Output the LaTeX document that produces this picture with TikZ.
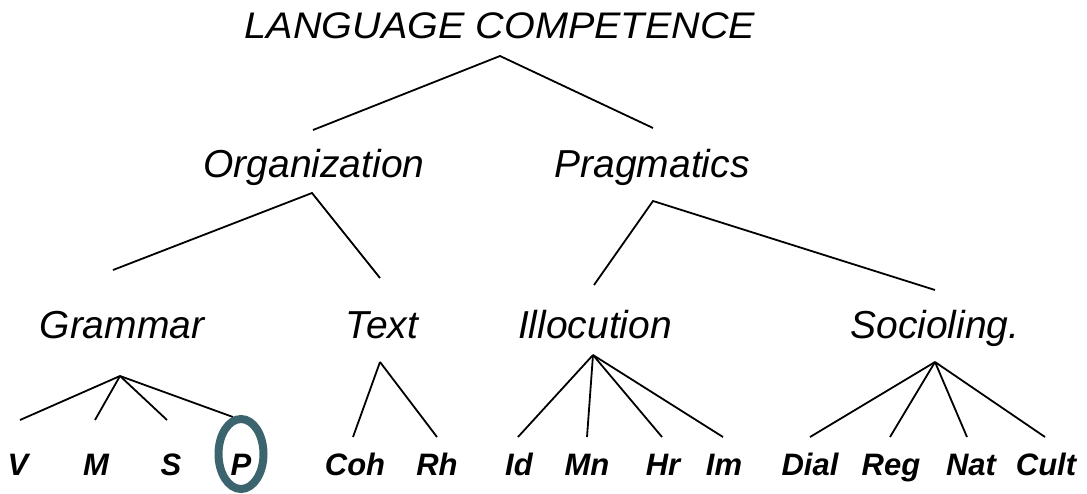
\documentclass[tikz,border=0pt]{standalone}
\usepackage{fontspec}
\setmainfont{Liberation Sans}
\definecolor{ringcol}{RGB}{60,100,110}
\begin{document}
\begin{tikzpicture}[x=1pt,y=-1pt,
  lab/.style={anchor=base,inner sep=0pt,font=\fontsize{39}{44}\selectfont\itshape},
  leaf/.style={anchor=base,inner sep=0pt,font=\fontsize{31}{36}\selectfont\bfseries\itshape},
  edge/.style={line width=1.8pt,black},
  ring/.style={draw=ringcol,line width=8pt,ellipse}]
\useasboundingbox (0,0) rectangle (1087,493);
% top
\node[lab,font=\fontsize{37}{42}\selectfont\itshape,xscale=1.07] (lc) at (500,38) {LANGUAGE COMPETENCE};
\node[lab] (org) at (314,177) {Organization};
\node[lab] (prag) at (652,177) {Pragmatics};
\node[lab] (gram) at (122,338) {Grammar};
\node[lab] (text) at (382,338) {Text};
\node[lab] (illo) at (595,338) {Illocution};
\node[lab] (soc) at (935,338) {Socioling.};
% leaves
\node[leaf] (v) at (18,475) {V};
\node[leaf] (m) at (96,475) {M};
\node[leaf] (s) at (171,475) {S};
\node[leaf] (p) at (241,475) {P};
\node[leaf] (coh) at (355,475) {Coh};
\node[leaf] (rh) at (437,475) {Rh};
\node[leaf] (id) at (519,475) {Id};
\node[leaf] (mn) at (587,475) {Mn};
\node[leaf] (hr) at (663,475) {Hr};
\node[leaf] (im) at (724,475) {Im};
\node[leaf] (dial) at (810,475) {Dial};
\node[leaf] (reg) at (891,475) {Reg};
\node[leaf] (nat) at (971,475) {Nat};
\node[leaf] (cult) at (1046,475) {Cult};
% connector end points
\coordinate (lc-b) at (500,56);
\coordinate (org-t) at (313,130);
\coordinate (prag-t) at (653,128);
\coordinate (org-b) at (312,193);
\coordinate (gram-t) at (113,270);
\coordinate (text-t) at (380,278);
\coordinate (prag-b) at (653,201);
\coordinate (illo-t) at (594,285);
\coordinate (soc-t) at (935,290);
\coordinate (gram-b) at (120,376);
\coordinate (v-t) at (20,420);
\coordinate (m-t) at (95,420);
\coordinate (s-t) at (167,420);
\coordinate (p-t) at (233,417);
\coordinate (text-b) at (380,362);
\coordinate (coh-t) at (353,437);
\coordinate (rh-t) at (437,437);
\coordinate (illo-b) at (593,355);
\coordinate (id-t) at (518,437);
\coordinate (mn-t) at (587,437);
\coordinate (hr-t) at (662,437);
\coordinate (im-t) at (723,437);
\coordinate (soc-b) at (935,362);
\coordinate (dial-t) at (810,437);
\coordinate (reg-t) at (890,437);
\coordinate (nat-t) at (967,437);
\coordinate (cult-t) at (1045,437);
% connectors
\draw[edge] (org-t) -- (lc-b) -- (prag-t);
\draw[edge] (gram-t) -- (org-b) -- (text-t);
\draw[edge] (illo-t) -- (prag-b) -- (soc-t);
\foreach \e in {v-t,m-t,s-t,p-t} \draw[edge] (gram-b) -- (\e);
\foreach \e in {coh-t,rh-t} \draw[edge] (text-b) -- (\e);
\foreach \e in {id-t,mn-t,hr-t,im-t} \draw[edge] (illo-b) -- (\e);
\foreach \e in {dial-t,reg-t,nat-t,cult-t} \draw[edge] (soc-b) -- (\e);
% ring round P
\draw[draw=ringcol,line width=8pt] (241,454) ellipse [x radius=22.5, y radius=35];
\end{tikzpicture}
\end{document}
